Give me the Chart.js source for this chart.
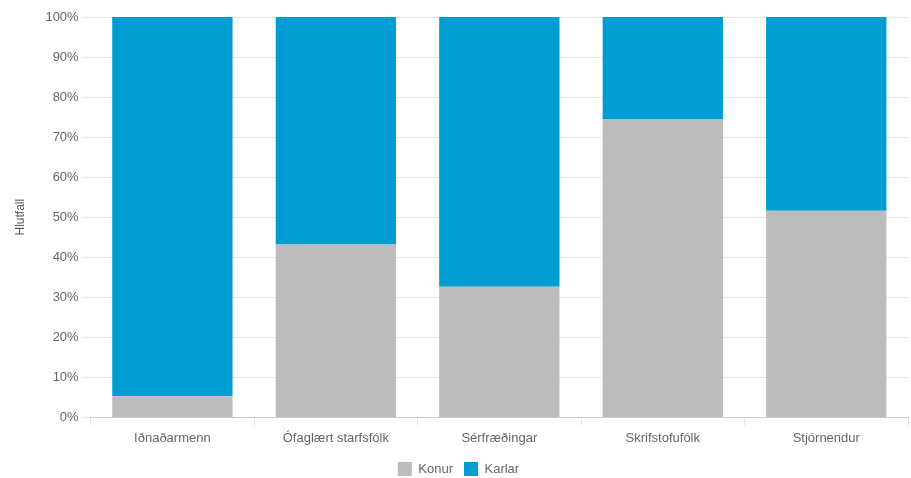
<!DOCTYPE html>
<html><head><meta charset="utf-8">
<script src="https://cdn.jsdelivr.net/npm/chart.js@4/dist/chart.umd.min.js"></script>
<style>html,body{margin:0;padding:0;background:#fff}#w{width:911px;height:478px}</style>
</head><body><div id="w"><canvas id="c"></canvas></div>
<script>
const categories = ["Iðnaðarmenn", "Ófaglært starfsfólk", "Sérfræðingar", "Skrifstofufólk", "Stjórnendur"];
const konur = [5.3, 43.2, 32.6, 74.4, 51.6];
const karlar = [94.7, 56.8, 67.4, 25.6, 48.4];
const yTicks = [0, 10, 20, 30, 40, 50, 60, 70, 80, 90, 100];

Chart.defaults.font.family = "'Helvetica Neue', Arial, 'Liberation Sans', sans-serif";
Chart.defaults.color = "#666";
new Chart(document.getElementById('c'), {
  type: 'bar',
  data: {
    labels: categories,
    datasets: [
      {label: 'Konur', data: konur, backgroundColor: '#bbbcbe'},
      {label: 'Karlar', data: karlar, backgroundColor: '#009dd3'}
    ]
  },
  options: {
    responsive: true, maintainAspectRatio: false, animation: false,
    layout: {padding: {left: 9, right: 3, top: 17, bottom: -8}},
    datasets: {bar: {categoryPercentage: 0.8, barPercentage: 0.92}},
    plugins: {
      legend: {position: 'bottom', labels: {boxWidth: 14, boxHeight: 14, font: {size: 13}, color: '#666', padding: 11}},
      tooltip: {enabled: false}
    },
    scales: {
      x: {
        stacked: true,
        grid: {offset: true, drawOnChartArea: false, tickLength: 8, color: '#e4e4e4'},
        border: {color: '#ccc'},
        ticks: {font: {size: 13}, color: '#666', padding: 5}
      },
      y: {
        stacked: true, min: 0, max: 100,
        afterBuildTicks: a => { a.ticks = yTicks.map(v => ({value: v})); },
        grid: {color: '#e6e6e6', tickLength: 8},
        border: {display: false},
        ticks: {font: {size: 13}, color: '#666', callback: v => v + '%', padding: 4},
        title: {display: true, text: 'Hlutfall', font: {size: 12}, color: '#555', padding: {bottom: 14}}
      }
    }
  }
});
</script></body></html>
